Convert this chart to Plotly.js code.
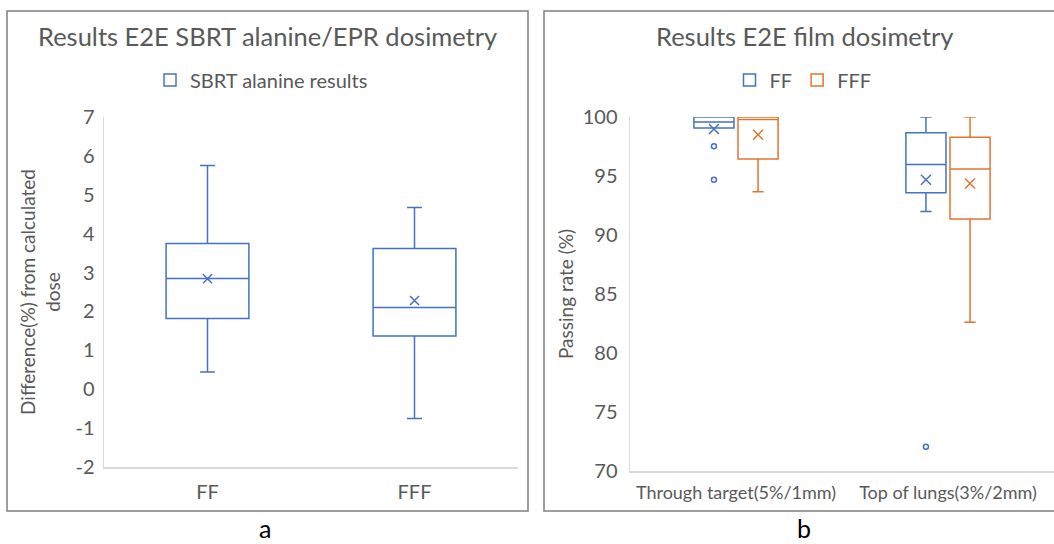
<!DOCTYPE html>
<html>
<head>
<meta charset="utf-8">
<script src="https://cdn.plot.ly/plotly-3.0.1.min.js"></script>
<style>html,body{margin:0;padding:0;background:#fff;}#chart{width:1054px;height:544px;}</style>
</head>
<body>
<div id="chart"></div>
<script>
// ---- Panel a: SBRT alanine/EPR ----
const aCategories = ['FF', 'FFF'];
const aQ1 = [1.82, 1.37];
const aMedian = [2.85, 2.10];
const aQ3 = [3.75, 3.62];
const aLower = [0.44, -0.75];
const aUpper = [5.75, 4.67];
const aMean = [2.84, 2.28];
const aTickVals = [-2, -1, 0, 1, 2, 3, 4, 5, 6, 7];
const aTickText = ['-2', '-1', '0', '1', '2', '3', '4', '5', '6', '7'];

// ---- Panel b: film dosimetry ----
const bCategories = ['Through target(5%/1mm)', 'Top of lungs(3%/2mm)'];
const ffQ1 = [99.07, 93.58];
const ffMedian = [99.58, 95.98];
const ffQ3 = [100, 98.67];
const ffLower = [99.07, 92.0];
const ffUpper = [100, 100];
const ffMean = [98.99, 94.69];
const ffOutliers = [[97.52, 94.69], [72.05]];
const fffQ1 = [96.44, 91.35];
const fffMedian = [99.78, 95.6];
const fffQ3 = [100, 98.28];
const fffLower = [93.66, 82.6];
const fffUpper = [100, 100];
const fffMean = [98.5, 94.37];
const bTickVals = [70, 75, 80, 85, 90, 95, 100];

const BLUE = '#4472C4', ORANGE = '#E4732F', GREY = '#595959';
const FONT = 'Lato, "Open Sans", sans-serif';
const W = 1054, H = 544;
const px = v => v / W, py = v => 1 - v / H;

const aIdx = aCategories.map((_, i) => i);
const bIdx = bCategories.map((_, i) => i);
const OFF = 0.104;
const ffX = bIdx.map(i => i - OFF);
const fffX = bIdx.map(i => i + OFF);

const traces = [
  {type: 'box', name: 'SBRT alanine results', x: aIdx, q1: aQ1, median: aMedian, q3: aQ3,
   lowerfence: aLower, upperfence: aUpper, width: 0.40, whiskerwidth: 0.18, boxpoints: false,
   line: {color: BLUE, width: 1.5}, fillcolor: 'rgba(255,255,255,0)', xaxis: 'x', yaxis: 'y', legend: 'legend'},
  {type: 'scatter', mode: 'markers', x: aIdx, y: aMean, showlegend: false, xaxis: 'x', yaxis: 'y',
   marker: {symbol: 'x-thin', size: 9, color: BLUE, line: {width: 1.5, color: BLUE}}},

  {type: 'box', name: 'FF', x: ffX, q1: ffQ1, median: ffMedian, q3: ffQ3,
   lowerfence: ffLower, upperfence: ffUpper, width: 0.189, whiskerwidth: 0.28, boxpoints: false,
   line: {color: BLUE, width: 1.5}, fillcolor: 'rgba(255,255,255,0)', xaxis: 'x2', yaxis: 'y2', legend: 'legend2'},
  {type: 'box', name: 'FFF', x: fffX, q1: fffQ1, median: fffMedian, q3: fffQ3,
   lowerfence: fffLower, upperfence: fffUpper, width: 0.189, whiskerwidth: 0.28, boxpoints: false,
   line: {color: ORANGE, width: 1.5}, fillcolor: 'rgba(255,255,255,0)', xaxis: 'x2', yaxis: 'y2', legend: 'legend2'},
  {type: 'scatter', mode: 'markers', x: ffX, y: ffMean, showlegend: false, xaxis: 'x2', yaxis: 'y2',
   marker: {symbol: 'x-thin', size: 10, color: BLUE, line: {width: 1.5, color: BLUE}}},
  {type: 'scatter', mode: 'markers', x: fffX, y: fffMean, showlegend: false, xaxis: 'x2', yaxis: 'y2',
   marker: {symbol: 'x-thin', size: 10, color: ORANGE, line: {width: 1.5, color: ORANGE}}},
  {type: 'scatter', mode: 'markers',
   x: ffOutliers.flatMap((arr, i) => arr.map(() => ffX[i])),
   y: ffOutliers.flat(), showlegend: false, xaxis: 'x2', yaxis: 'y2',
   marker: {symbol: 'circle-open', size: 5, color: BLUE, line: {width: 1.5, color: BLUE}}}
];

const axisCommon = {showgrid: false, zeroline: false, showline: true, linecolor: '#D9D9D9', linewidth: 1.5,
  ticks: '', fixedrange: true, tickfont: {family: FONT, size: 20, color: GREY}};

const layout = {
  width: W, height: H, margin: {l: 0, r: 0, t: 0, b: 0},
  paper_bgcolor: '#fff', plot_bgcolor: 'rgba(0,0,0,0)',
  font: {family: FONT, color: GREY},
  showlegend: true,
  xaxis: Object.assign({}, axisCommon, {domain: [px(104), px(518)], anchor: 'y', range: [-0.5, 1.5],
    tickvals: aIdx, ticktext: aCategories, ticklabelstandoff: 6}),
  yaxis: Object.assign({}, axisCommon, {domain: [py(467), py(117)], anchor: 'x', range: [-2, 7],
    tickvals: aTickVals, ticktext: aTickText, ticklabelstandoff: 4,
    title: {text: 'Difference(%) from calculated<br>dose', font: {family: FONT, size: 19, color: GREY}, standoff: 10}}),
  xaxis2: Object.assign({}, axisCommon, {domain: [px(630), 1], anchor: 'y2', range: [-0.5, 1.5],
    tickvals: bIdx, ticktext: bCategories, ticklabelstandoff: 5, tickfont: {family: FONT, size: 18, color: GREY}}),
  yaxis2: Object.assign({}, axisCommon, {domain: [py(471), py(117)], anchor: 'x2', range: [70, 100],
    tickvals: bTickVals, ticklabelstandoff: 7,
    title: {text: 'Passing rate (%)', font: {family: FONT, size: 19, color: GREY}, standoff: 4}}),
  legend: {x: px(150), y: py(80), xanchor: 'left', yanchor: 'middle', orientation: 'h',
    bgcolor: 'rgba(0,0,0,0)', font: {family: FONT, size: 20, color: GREY}},
  legend2: {x: px(803), y: py(80), xanchor: 'center', yanchor: 'middle', orientation: 'h',
    bgcolor: 'rgba(0,0,0,0)', font: {family: FONT, size: 20, color: GREY}},
  shapes: [
    {type: 'rect', xref: 'paper', yref: 'paper', x0: px(7), x1: px(528), y0: py(511), y1: py(11),
     line: {color: '#7F7F7F', width: 1.5}, layer: 'below'},
    {type: 'rect', xref: 'paper', yref: 'paper', x0: px(544), x1: px(1064), y0: py(511), y1: py(11),
     line: {color: '#7F7F7F', width: 1.5}, layer: 'below'}
  ],
  annotations: [
    {xref: 'paper', yref: 'paper', x: px(267.5), y: py(36), xanchor: 'center', yanchor: 'middle', showarrow: false,
     text: 'Results E2E SBRT alanine/EPR dosimetry', font: {family: FONT, size: 25.5, color: GREY}},
    {xref: 'paper', yref: 'paper', x: px(804), y: py(36), xanchor: 'center', yanchor: 'middle', showarrow: false,
     text: 'Results E2E film dosimetry', font: {family: FONT, size: 25.5, color: GREY}},
    {xref: 'paper', yref: 'paper', x: px(265), y: 0, xanchor: 'center', yanchor: 'bottom', showarrow: false,
     borderpad: 0, text: 'a', font: {family: FONT, size: 25, color: '#000'}},
    {xref: 'paper', yref: 'paper', x: px(804), y: 0, xanchor: 'center', yanchor: 'bottom', showarrow: false,
     borderpad: 0, text: 'b', font: {family: FONT, size: 25, color: '#000'}}
  ]
};

Plotly.newPlot('chart', traces, layout, {staticPlot: true, displayModeBar: false});
</script>
</body>
</html>
